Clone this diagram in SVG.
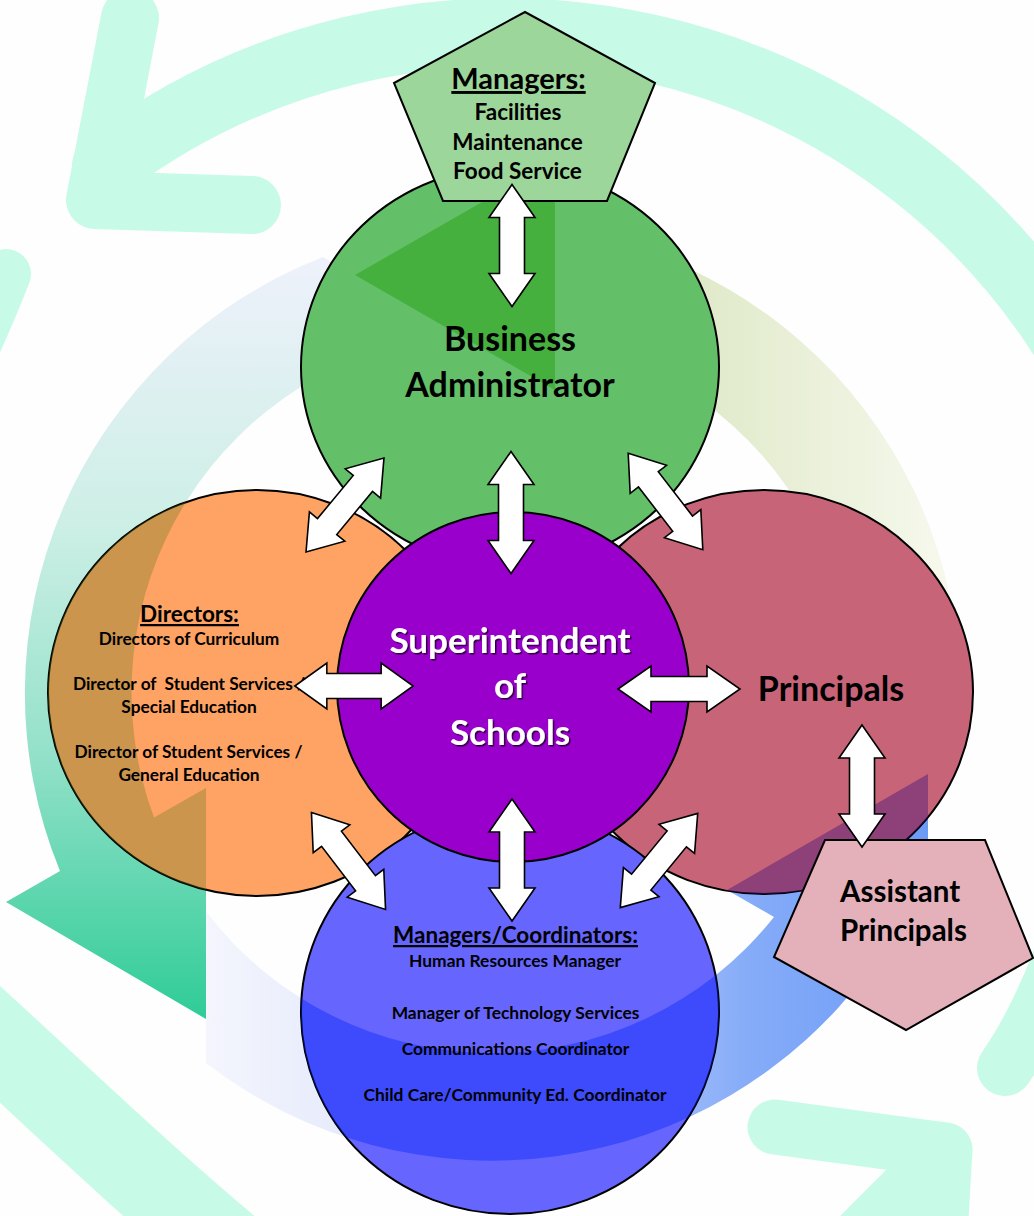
<svg xmlns="http://www.w3.org/2000/svg" xmlns:xlink="http://www.w3.org/1999/xlink" width="1034" height="1216" viewBox="0 0 1034 1216">
<style>
.t{font-family:Lato,'Liberation Sans',sans-serif;font-weight:700;fill:#000;text-anchor:middle}
.node{stroke:#000;stroke-width:2}
.mint{fill:none;stroke:#c8fbe7;stroke-linecap:round;stroke-linejoin:round}
.conn{fill:#fff;stroke:#000;stroke-width:1.6;stroke-linejoin:miter}
</style>
<defs>
<linearGradient id="gTeal" gradientUnits="userSpaceOnUse" x1="0" y1="257" x2="0" y2="1019">
<stop offset="0" stop-color="#eef1fb"/><stop offset="0.35" stop-color="#cdefe6"/><stop offset="0.65" stop-color="#94e1c9"/><stop offset="1" stop-color="#2fcc97"/>
</linearGradient>
<linearGradient id="gGreen" gradientUnits="userSpaceOnUse" x1="960" y1="0" x2="355" y2="0">
<stop offset="0" stop-color="#f7f9ee"/><stop offset="0.45" stop-color="#dfe9c8"/><stop offset="1" stop-color="#9fd38a"/>
</linearGradient>
<linearGradient id="gBlue" gradientUnits="userSpaceOnUse" x1="206" y1="0" x2="928" y2="0">
<stop offset="0" stop-color="#f4f5fd"/><stop offset="0.25" stop-color="#e2e8fb"/><stop offset="0.6" stop-color="#a7c0fa"/><stop offset="0.75" stop-color="#86acf8"/><stop offset="1" stop-color="#6c9bf7"/>
</linearGradient>
<path id="segTeal" d="M323,257 A468,468 0 0 0 60,871 L6,902 L206,1019 L206,788 L154,817.5 A360,360 0 0 1 457,334 Z"/>
<path id="segBlue" d="M206,1063 A468,468 0 0 0 868,971.5 L928,1005 L928,774 L727,890 L774,917 A360,360 0 0 1 206,911.6 Z"/>
<path id="segGreen" d="M955.6,758 A468,468 0 0 0 555,229.3 L555,160 L355,275 L555,390 L555,338.6 A360,360 0 0 1 822.5,835 Z"/>
<clipPath id="cO"><ellipse cx="257" cy="693" rx="209" ry="203"/></clipPath>
<clipPath id="cR"><ellipse cx="764" cy="692" rx="209" ry="202"/></clipPath>
<clipPath id="cG"><ellipse cx="510" cy="367" rx="209" ry="200"/></clipPath>
<clipPath id="cB"><ellipse cx="510" cy="1012" rx="209" ry="202"/></clipPath>
<path id="dbl" d="M-61,0 L-28,-23 L-28,-12.5 L28,-12.5 L28,-23 L61,0 L28,23 L28,12.5 L-28,12.5 L-28,23 Z"/>
<filter id="ts" x="-10%" y="-30%" width="120%" height="160%"><feDropShadow dx="1.5" dy="1.5" stdDeviation="0.7" flood-color="#000" flood-opacity="0.7"/></filter>
</defs>
<rect width="1034" height="1216" fill="#fefefe"/>
<g id="background-arrows">
<path class="mint" stroke-width="68" d="M106,165.5 A663,663 0 0 1 1090,384"/>
<path class="mint" stroke-width="58" d="M130,18 L95,200 L252,205"/>
<path class="mint" stroke-width="56" d="M1060,960 Q1035,1025 1005,1068"/>
<path class="mint" stroke-width="50" d="M6,274 Q-12,320 -40,380"/>
<path class="mint" stroke-width="86" d="M-60,990 C20,1060 120,1160 240,1260"/>
<path class="mint" stroke-width="55" d="M775,1127 L945,1150 L938,1270"/>
<path class="mint" stroke-width="55" d="M945,1150 Q880,1215 820,1275"/>
</g>
<g id="cycle-ring">
<use xlink:href="#segTeal" fill="url(#gTeal)"/>
<use xlink:href="#segGreen" fill="url(#gGreen)"/>
<use xlink:href="#segBlue" fill="url(#gBlue)"/>
</g>
<g id="directors">
<ellipse class="node" cx="257" cy="693" rx="209" ry="203" fill="#fea364"/>
<use xlink:href="#segTeal" clip-path="url(#cO)" fill="#6e7c22" fill-opacity="0.35"/>
<text class="t" x="189.5" y="622" font-size="22.5" text-decoration="underline">Directors:</text>
<text class="t" x="189" y="645" font-size="17.3">Directors of Curriculum</text>
<text class="t" x="189" y="690" font-size="17.3" xml:space="preserve">Director of  Student Services /</text>
<text class="t" x="189" y="713" font-size="17.3">Special Education</text>
<text class="t" x="188.5" y="758" font-size="17.3">Director of Student Services /</text>
<text class="t" x="189" y="781" font-size="17.3">General Education</text>
</g>
<g id="principals">
<ellipse class="node" cx="764" cy="692" rx="209" ry="202" fill="#c86478"/>
<use xlink:href="#segBlue" clip-path="url(#cR)" fill="#47147a" fill-opacity="0.45"/>
<text class="t" x="831" y="701" font-size="34">Principals</text>
</g>
<g id="business-administrator">
<ellipse class="node" cx="510" cy="367" rx="209" ry="200" fill="#64c068"/>
<path d="M555,160 L355,275 L555,390 Z" clip-path="url(#cG)" fill="#189800" fill-opacity="0.4"/>
<text class="t" x="510" y="351" font-size="34">Business</text>
<text class="t" x="510" y="397" font-size="34">Administrator</text>
</g>
<g id="managers-coordinators">
<ellipse class="node" cx="510" cy="1012" rx="209" ry="202" fill="#6666fe"/>
<use xlink:href="#segBlue" clip-path="url(#cB)" fill="#0022fa" fill-opacity="0.4"/>
<text class="t" x="515.5" y="943" font-size="22.5" text-decoration="underline">Managers/Coordinators:</text>
<text class="t" x="515" y="967" font-size="17.4">Human Resources Manager</text>
<text class="t" x="515.5" y="1019" font-size="17.4">Manager of Technology Services</text>
<text class="t" x="515.5" y="1055" font-size="17.4">Communications Coordinator</text>
<text class="t" x="515" y="1101" font-size="17.4">Child Care/Community Ed. Coordinator</text>
</g>
<g id="superintendent">
<ellipse class="node" cx="513" cy="687" rx="176" ry="175" fill="#9900cc"/>
<g filter="url(#ts)">
<text class="t" x="510" y="653" font-size="35" style="fill:#fff">Superintendent</text>
<text class="t" x="510" y="698" font-size="35" style="fill:#fff">of</text>
<text class="t" x="510" y="745" font-size="35" style="fill:#fff">Schools</text>
</g>
</g>
<g id="managers">
<polygon class="node" points="525,12 655,83 607,201 443,201 394,83" fill="#9dd69a" stroke-width="1.5"/>
<text class="t" x="518.5" y="89" font-size="29" text-decoration="underline">Managers:</text>
<text class="t" x="518" y="120" font-size="22.5">Facilities</text>
<text class="t" x="517.5" y="150" font-size="22.5">Maintenance</text>
<text class="t" x="517.5" y="179" font-size="22.5">Food Service</text>
</g>
<g id="assistant-principals">
<polygon class="node" points="825,840 985,840 1033,958 906,1030 774,957" fill="#e4b1bb" stroke-width="1.5"/>
<text class="t" x="840" y="902" font-size="29.5" style="text-anchor:start">Assistant</text>
<text class="t" x="840" y="941" font-size="29.5" style="text-anchor:start">Principals</text>
</g>
<g id="connectors">
<use class="conn" xlink:href="#dbl" transform="translate(512,245.5) rotate(90)"/>
<use class="conn" xlink:href="#dbl" transform="translate(511,512.5) rotate(90)"/>
<use class="conn" xlink:href="#dbl" transform="translate(512,860) rotate(90)"/>
<use class="conn" xlink:href="#dbl" transform="translate(862,786) rotate(90)"/>
<use class="conn" xlink:href="#dbl" transform="translate(354,686) scale(0.97,1)"/>
<use class="conn" xlink:href="#dbl" transform="translate(679,689)"/>
<use class="conn" xlink:href="#dbl" transform="translate(345,505) rotate(129.7)"/>
<use class="conn" xlink:href="#dbl" transform="translate(665.5,501.5) rotate(52.3)"/>
<use class="conn" xlink:href="#dbl" transform="translate(348.5,861) rotate(52.6)"/>
<use class="conn" xlink:href="#dbl" transform="translate(659,860.5) rotate(129.4)"/>
</g>
</svg>
